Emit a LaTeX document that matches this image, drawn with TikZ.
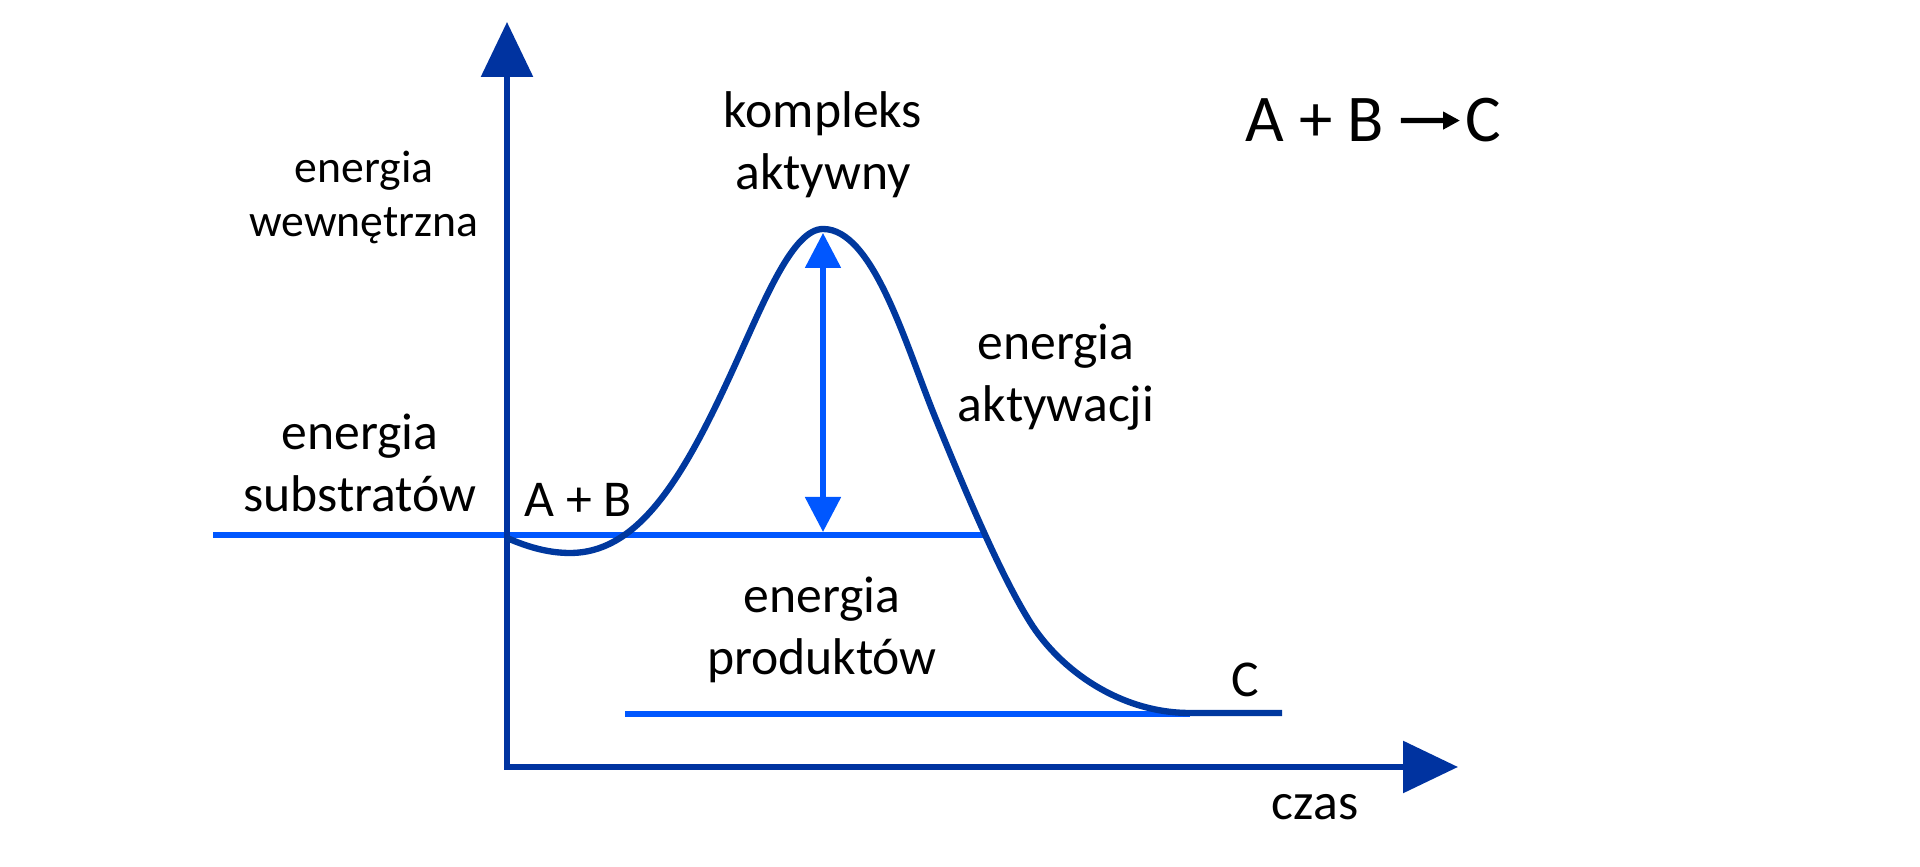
\documentclass[tikz,border=0pt]{standalone}
\usepackage{fontspec}
\setmainfont{Carlito}
\usetikzlibrary{arrows.meta}
\definecolor{axisblue}{RGB}{0,51,160}
\definecolor{curveblue}{RGB}{0,56,158}
\definecolor{levelblue}{RGB}{0,87,255}
\tikzset{
  axes/.style={draw=axisblue, line width=1.7pt, line join=miter,
    {Triangle[length=0.55cm,width=0.51cm]}-{Triangle[length=0.55cm,width=0.51cm]}},
  level/.style={draw=levelblue, line width=1.7pt},
  profile/.style={draw=curveblue, line width=1.8pt},
  gap/.style={draw=levelblue, line width=1.5pt,
    {Triangle[length=0.35cm,width=0.35cm]}-{Triangle[length=0.35cm,width=0.35cm]}},
  lbl/.style={align=center, anchor=base, inner sep=0pt, font=\fontsize{14.7}{17.9}\selectfont},
  small/.style={lbl, font=\fontsize{13}{15.6}\selectfont},
  eq/.style={anchor=base, inner sep=0pt, font=\fontsize{19}{23}\selectfont}
}

\begin{document}
\begin{tikzpicture}
\useasboundingbox (0,0) rectangle (19.2,8.67);

% axes and levels
\coordinate (O) at (5.07,1.00);
\coordinate (ytop) at (5.07,8.45);
\coordinate (xend) at (14.58,1.00);
\coordinate (subL) at (2.13,3.32);
\coordinate (subR) at (9.86,3.32);
\coordinate (prodL) at (6.25,1.53);
\coordinate (prodR) at (11.9,1.53);
\coordinate (gapTop) at (8.23,6.34);
\coordinate (gapBot) at (8.23,3.35);

\draw [level] (subL) -- (subR);
\draw [level] (prodL) -- (prodR);
\draw [axes] (ytop) -- (O) -- (xend);

% energy profile
\coordinate (start) at (5.07,3.29);
\coordinate (dip) at (5.70,3.14);
\coordinate (rise) at (7.35,5.02);
\coordinate (peak) at (8.23,6.38);
\coordinate (fall) at (9.35,4.50);
\coordinate (knee) at (10.30,2.45);
\coordinate (flat) at (11.90,1.54);
\coordinate (stop) at (12.82,1.54);
\draw [profile] (start) .. controls (5.30,3.19) and (5.50,3.14) .. (dip)
  .. controls (6.40,3.14) and (6.85,3.92) .. (rise)
  .. controls (7.65,5.68) and (7.93,6.38) .. (peak)
  .. controls (8.73,6.38) and (9.05,5.24) .. (fall)
  .. controls (9.65,3.765) and (10.00,2.93) .. (knee)
  .. controls (10.60,1.97) and (11.20,1.54) .. (flat) -- (stop);
\draw [gap] (gapTop) -- (gapBot);

% labels
\node (internal) [small] at (3.64,6.30) {energia\\wewnętrzna};
\node (complex) [lbl] at (8.23,6.77) {kompleks\\aktywny};
\node (activation) [lbl] at (10.56,4.45) {energia\\aktywacji};
\node (substrates) [lbl] at (3.60,3.55) {energia\\substratów};
\node (reactants) [lbl] at (5.78,3.50) {A + B};
\node (products) [lbl] at (8.22,1.92) {energia\\produktów};
\node (product) [lbl] at (12.45,1.70) {C};
\node (time) [lbl] at (13.15,0.47) {czas};

% reaction equation
\node (eqAB) [eq, anchor=base west] at (12.45,7.25) {A + B};
\node (eqC) [eq, anchor=base east] at (15.02,7.25) {C};
\draw [line width=1.5pt, -{Triangle[length=0.17cm,width=0.17cm]}] ([xshift=0.16cm]eqAB.east) -- ([xshift=-0.05cm]eqC.west);
\end{tikzpicture}
\end{document}
